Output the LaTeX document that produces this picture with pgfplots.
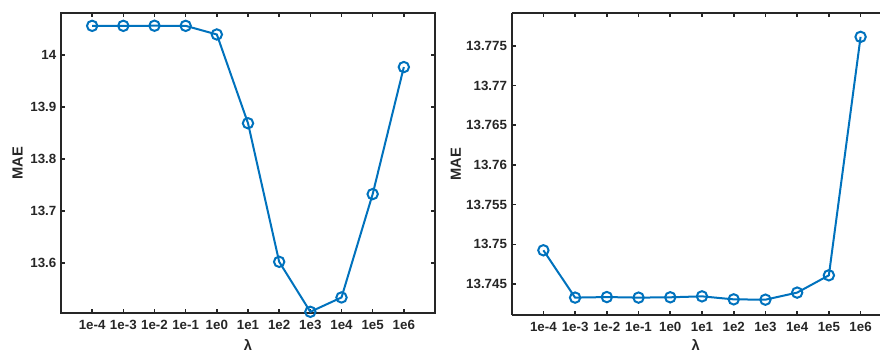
\documentclass[border=0pt]{standalone}
\usepackage{fontspec}
\setmainfont{Liberation Sans}
\usepackage{pgfplots}
\pgfplotsset{compat=1.18}
\definecolor{mblue}{HTML}{0072BD}
\definecolor{axgray}{HTML}{262626}
\pgfplotsset{
  mystyle/.style={
    scale only axis,
    clip=false,
    axis line style={axgray, line width=1.4pt},
    every tick/.style={axgray, line width=1.2pt},
    major tick length=3pt,
    tick align=inside,
    xmin=0,
    xtick={1,...,11},
    xticklabels={1e-4,1e-3,1e-2,1e-1,1e0,1e1,1e2,1e3,1e4,1e5,1e6},
    /pgf/number format/assume math mode=true,
    every tick label/.append style={font=\bfseries\fontsize{10}{12}\selectfont, text=axgray},
    xticklabel style={yshift=-2pt},
    xlabel={λ},
    ylabel={MAE},
    every axis label/.append style={font=\bfseries\fontsize{11}{13}\selectfont, text=axgray},
    x label style={at={(axis description cs:0.5,0)}, anchor=center},
    y label style={at={(axis description cs:0,0.5)}, anchor=center},
  },
  myline/.style={mblue, line width=1.5pt, mark=o, mark size=3.9pt, mark options={line width=1.5pt}},
}
\begin{document}
\begin{tikzpicture}
\begin{axis}[mystyle,
  at={(0pt,0pt)}, anchor=south west,
  width=280.5pt, height=225pt,
  xmax=12,
  ymin=13.504, ymax=14.081,
  ytick={13.6,13.7,13.8,13.9,14},
  x label style={yshift=-24pt},
  y label style={yshift=32.6pt},
]
\addplot[myline] coordinates {
(1,14.0563) (2,14.0563) (3,14.0565) (4,14.0563) (5,14.0397) (6,13.869)
(7,13.6025) (8,13.5063) (9,13.5339) (10,13.7327) (11,13.977)
};
\end{axis}
\begin{axis}[mystyle,
  at={(338pt,-1.5pt)}, anchor=south west,
  width=276.2pt, height=226.3pt,
  xmax=11.61,
  axis x line*=box, axis y line*=left,
  ymin=13.7411, ymax=13.7791,
  ytick={13.745,13.75,13.755,13.76,13.765,13.77,13.775},
  /pgf/number format/precision=3,
  x label style={yshift=-22.5pt},
  y label style={yshift=41.8pt},
]
\addplot[myline] coordinates {
(1,13.74925) (2,13.74329) (3,13.74336) (4,13.74329) (5,13.74333) (6,13.74345)
(7,13.74307) (8,13.74303) (9,13.74392) (10,13.7461) (11,13.77613)
};
\end{axis}
\pgfresetboundingbox
\useasboundingbox (-45.75pt,-30.75pt) rectangle (615pt,234.75pt);
\end{tikzpicture}
\end{document}
